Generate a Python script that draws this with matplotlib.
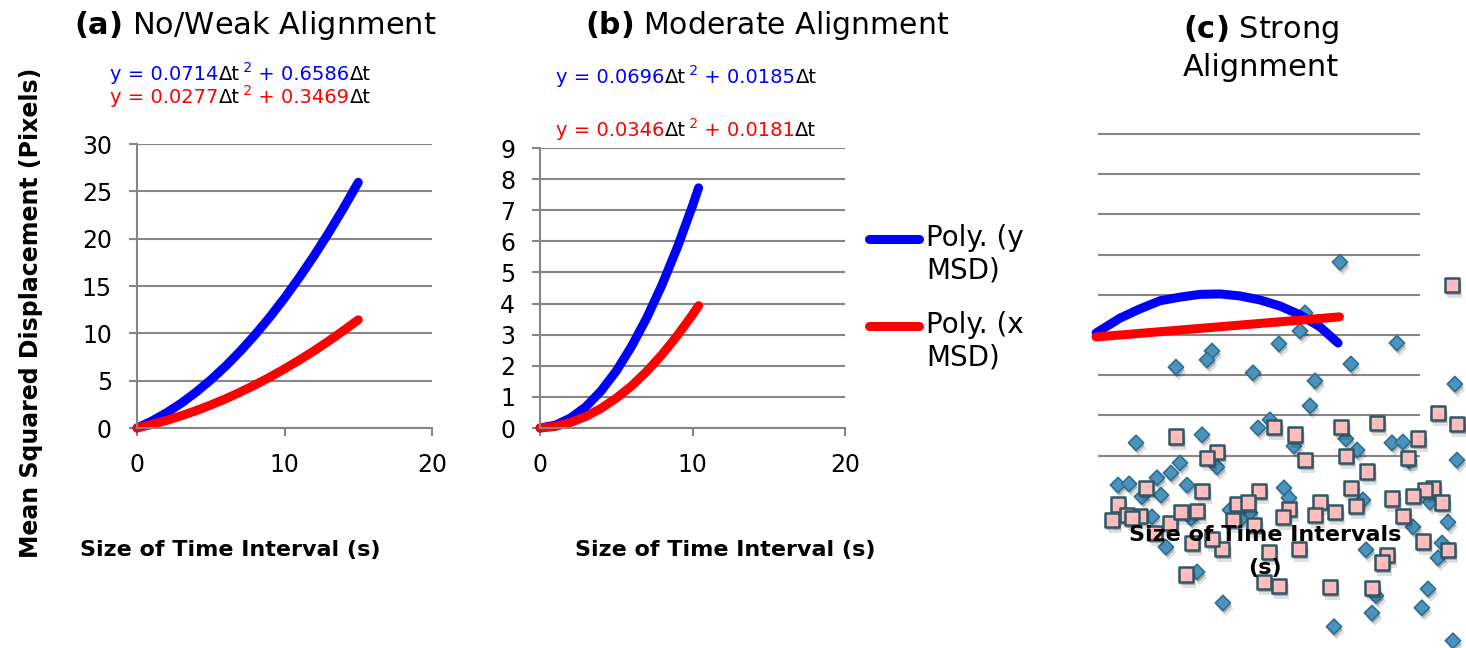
import numpy as np
import matplotlib.pyplot as plt
import matplotlib.patheffects as pe
from matplotlib.legend_handler import HandlerLine2D

plt.rcParams['font.family'] = ['DejaVu Sans']

W, H = 1466, 648
GRAY = '#868686'

# (a) No/Weak alignment - polynomial trend lines
t_a = [0, 1, 2, 3, 4, 5, 6, 7, 8, 9, 10, 11, 12, 13, 14, 15]
y_msd_a = [0.0, 0.73, 1.60, 2.62, 3.78, 5.08, 6.52, 8.11, 9.84, 11.71,
           13.73, 15.89, 18.19, 20.63, 23.22, 25.95]
x_msd_a = [0.0, 0.37, 0.80, 1.29, 1.83, 2.43, 3.08, 3.79, 4.55, 5.37,
           6.24, 7.17, 8.15, 9.19, 10.29, 11.43]

# (b) Moderate alignment
t_b = [0, 1, 2, 3, 4, 5, 6, 7, 8, 9, 10, 10.4]
y_msd_b = [0.0, 0.09, 0.32, 0.68, 1.19, 1.83, 2.62, 3.54, 4.60, 5.80, 7.14, 7.72]
x_msd_b = [0.0, 0.05, 0.18, 0.37, 0.63, 0.96, 1.35, 1.82, 2.36, 2.97, 3.64, 3.93]

eq_a = [('0.0714', '0.6586'), ('0.0277', '0.3469')]
eq_b = [('0.0696', '0.0185'), ('0.0346', '0.0181')]

# (c) Strong alignment (broken chart, no axis labels)
t_c = [-0.12, 1.37, 2.61, 3.85, 5.09, 6.34, 7.58, 8.82, 10.06, 11.30, 12.55, 13.79, 14.91]
y_msd_c = [4.05, 4.42, 4.65, 4.85, 4.94, 5.01, 5.02, 4.97, 4.87, 4.72, 4.50, 4.20, 3.80]
t_c_x = [-0.12, 15.0]
x_msd_c = [3.95, 4.45]
grid_c = [1, 2, 3, 4, 5, 6, 7, 8, 9]

diam_t = [15.03, 18.57, 15.71, 11.24, 12.55, 12.86, 7.08, 6.77, 4.84, 9.63,
          13.48, 13.17, 22.17, 2.36, 6.46, 9.94, 10.68, 7.39, 5.09, 4.53,
          5.53, 3.66, 1.24, 1.93, 3.91, 2.73, 12.17, 15.40, 16.09, 18.26,
          18.94, 19.32, 11.55, 11.86, 8.20, 8.94, 9.44, 16.46, 20.62, 21.74,
          19.57, 0.93, 3.35, 4.22, 5.78, 16.65, 21.12, 21.37, 6.15, 7.76,
          17.27, 17.02, 14.66, 20.50, 20.12, 22.05, 22.30]
diam_v = [5.81, 3.80, 3.28, 3.78, 4.10, 4.55, 3.60, 3.38, 3.20, 3.06,
          2.86, 2.24, 2.78, 1.32, 1.52, 1.69, 1.89, 0.72, 0.82, 0.57,
          0.27, 0.45, 0.27, 0.30, 0.02, -0.02, 1.24, 1.42, 1.14, 1.32,
          1.34, 0.87, 0.20, -0.05, -0.35, -0.55, -0.42, -0.10, -0.15, -0.65,
          -0.77, -0.55, -0.52, -1.27, -0.55, -1.34, -1.54, -1.17, -1.89, -2.66,
          -2.48, -2.91, -3.25, -2.31, -2.78, -3.60, 0.89]

sq_t = [21.99, 4.84, 10.93, 12.24, 15.09, 17.33, 21.12, 22.30, 7.39, 6.77,
        12.86, 15.40, 19.25, 19.88, 16.71, 2.98, 6.46, 10.00, 15.71, 20.81,
        20.31, 21.37, 19.57, 18.26, 1.24, 0.87, 1.80, 2.61, 2.11, 4.47,
        5.16, 6.15, 8.63, 9.32, 8.39, 9.69, 11.86, 11.49, 13.79, 13.48,
        14.72, 16.02, 18.94, 3.54, 5.84, 7.70, 10.62, 12.48, 7.08, 20.19,
        21.74, 17.95, 17.64, 5.47, 10.31, 11.24, 14.41, 17.02]
sq_v = [5.24, 1.47, 1.71, 1.52, 1.71, 1.81, 2.06, 1.79, 1.09, 0.94,
        0.89, 0.99, 0.94, 1.42, 0.60, 0.20, 0.12, 0.12, 0.20, 0.20,
        0.15, -0.17, 0.00, -0.07, -0.22, -0.60, -0.47, -0.50, -0.55, -0.67,
        -0.40, -0.37, -0.20, -0.17, -0.60, -0.72, -0.32, -0.52, -0.15, -0.47,
        -0.40, -0.25, -0.50, -0.92, -1.17, -1.32, -1.39, -1.32, -1.07, -1.14,
        -1.34, -1.47, -1.66, -1.96, -2.14, -2.24, -2.26, -2.29]


def px_axes(fig, l, t, r, b):
    return fig.add_axes([l / W, 1 - b / H, (r - l) / W, (b - t) / H])


def style_excel(ax, ymax, ystep):
    ax.set_xlim(0, 20)
    ax.set_ylim(0, ymax)
    ax.set_xticks([0, 10, 20])
    ax.set_yticks(range(0, ymax + 1, ystep))
    ax.yaxis.grid(True, color=GRAY, lw=1.5)
    ax.set_axisbelow(True)
    for s in ['top', 'right']:
        ax.spines[s].set_visible(False)
    for s in ['left', 'bottom']:
        ax.spines[s].set_color(GRAY)
        ax.spines[s].set_linewidth(1.5)
    ax.tick_params(axis='both', color=GRAY, width=1.5, length=6, labelsize=17, pad=12)


def equation(bg, x, y, coeffs, color, size=14):
    t = bg.text(x, y, 'y = ' + coeffs[0], color=color, fontsize=size, va='baseline')
    t = bg.annotate('\u0394t', xy=(1, 0), xycoords=t, va='bottom', color='black', fontsize=size)
    main = t
    sup = bg.annotate(' 2', xy=(1, 0.45), xycoords=t, va='bottom', color=color, fontsize=size * 0.7)
    t = bg.annotate(' + ' + coeffs[1], xy=(1, 0), xycoords=(sup, main), va='bottom',
                    color=color, fontsize=size)
    bg.annotate('\u0394t', xy=(1, 0), xycoords=t, va='bottom', color='black', fontsize=size)


class FirstLineHandler(HandlerLine2D):
    # put the legend line next to the first line of a two-line label
    def create_artists(self, legend, orig_handle, xdescent, ydescent, width, height,
                       fontsize, trans):
        arts = super().create_artists(legend, orig_handle, xdescent, ydescent, width,
                                      height, fontsize, trans)
        for a in arts:
            a.set_ydata(np.asarray(a.get_ydata()) + 0.6 * fontsize)
        return arts


fig = plt.figure(figsize=(W / 100, H / 100), dpi=100)
bg = fig.add_axes([0, 0, 1, 1], zorder=-5)
bg.set_xlim(0, W)
bg.set_ylim(H, 0)
bg.axis('off')

LW = 6.5

# panel (a)
ax_a = px_axes(fig, 137, 144, 432, 428)
style_excel(ax_a, 30, 5)
ax_a.plot(t_a, y_msd_a, color='#0000ff', lw=LW, solid_capstyle='round', clip_on=False)
ax_a.plot(t_a, x_msd_a, color='#ff0000', lw=LW, solid_capstyle='round', clip_on=False)

# panel (b)
ax_b = px_axes(fig, 540, 148, 845, 428)
style_excel(ax_b, 9, 1)
lb_y, = ax_b.plot(t_b, y_msd_b, color='#0000ff', lw=LW, solid_capstyle='round', clip_on=False)
lb_x, = ax_b.plot(t_b, x_msd_b, color='#ff0000', lw=LW, solid_capstyle='round', clip_on=False)

# titles
bg.text(255, 25, r'$\bf{(a)}$ No/Weak Alignment', fontsize=22, ha='center', va='center')
bg.text(767, 25, r'$\bf{(b)}$ Moderate Alignment', fontsize=21.5, ha='center', va='center')
bg.text(1261, 30, r'$\bf{(c)}$ Strong', fontsize=22, ha='center', va='center')
bg.text(1261, 68, 'Alignment', fontsize=22, ha='center', va='center')

equation(bg, 110, 80, eq_a[0], '#0000ff')
equation(bg, 110, 103, eq_a[1], '#ff0000')
equation(bg, 556, 83, eq_b[0], '#0000ff')
equation(bg, 556, 136, eq_b[1], '#ff0000')

# axis labels
bg.text(31, 313, 'Mean Squared Displacement (Pixels)', rotation=90, fontsize=17,
        fontweight='bold', ha='center', va='center')
bg.text(230, 550, 'Size of Time Interval (s)', fontsize=16, fontweight='bold',
        ha='center', va='center')
bg.text(725, 550, 'Size of Time Interval (s)', fontsize=16, fontweight='bold',
        ha='center', va='center')

# legend
fig.legend([lb_y, lb_x], ['Poly. (y\nMSD)', 'Poly. (x\nMSD)'], loc='upper left',
           bbox_to_anchor=(869 / W, 1 - 224 / H), frameon=False, fontsize=20,
           borderpad=0, borderaxespad=0, handlelength=1.8, handletextpad=0.25,
           labelspacing=0.95, handler_map={lb_y: FirstLineHandler(), lb_x: FirstLineHandler()})

# panel (c)
ax_c = px_axes(fig, 1090, 100, 1466, 648)
ax_c.set_xlim(-0.5, 22.86)
ax_c.set_ylim(-3.78, 9.84)
ax_c.axis('off')
ax_c.hlines(grid_c, 0, 20, color=GRAY, lw=1.5, zorder=1)
shadow = [pe.SimplePatchShadow(offset=(2, -4), shadow_rgbFace='black', alpha=0.12),
          pe.SimplePatchShadow(offset=(1, -2), shadow_rgbFace='black', alpha=0.22),
          pe.Normal()]
ax_c.scatter(diam_t, diam_v, marker='D', s=60, color='#4a93bd', edgecolor='#2f6f93',
             lw=1.2, zorder=3, path_effects=shadow, clip_on=False)
ax_c.scatter(sq_t, sq_v, marker='s', s=110, color='#ffbcbc', edgecolor='#2f5766',
             lw=1.8, zorder=4, path_effects=shadow, clip_on=False)
ax_c.text(1265, 535, 'Size of Time Intervals', transform=bg.transData, fontsize=16,
          fontweight='bold', ha='center', va='center', zorder=5)
ax_c.text(1265, 568, '(s)', transform=bg.transData, fontsize=16,
          fontweight='bold', ha='center', va='center', zorder=5)
ax_c.plot(t_c, y_msd_c, color='#0000ff', lw=LW, solid_capstyle='round', zorder=6)
ax_c.plot(t_c_x, x_msd_c, color='#ff0000', lw=LW, solid_capstyle='round', zorder=7)

fig.savefig('out.png', dpi=100)
